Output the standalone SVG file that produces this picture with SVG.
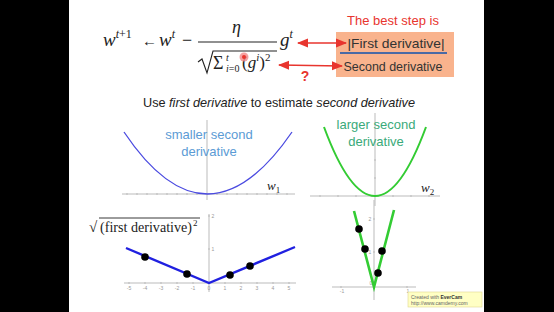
<svg xmlns="http://www.w3.org/2000/svg" width="554" height="312" viewBox="0 0 554 312">
<defs>
<style>
.math{font-family:"Liberation Serif","DejaVu Serif",serif;font-style:italic;fill:#222}
.rm{font-family:"Liberation Serif","DejaVu Serif",serif;fill:#222}
.sans{font-family:"Liberation Sans","Noto Sans",sans-serif}
.axis{stroke:#bbb;stroke-width:1;fill:none}
.tick{stroke:#bbb;stroke-width:1}
.tl{font-family:"Liberation Sans",sans-serif;font-size:5px;fill:#999}
.red{stroke:#e8352e;stroke-width:1.6;fill:none}
.dot{fill:#000}
</style>
<marker id="ah" viewBox="0 0 10 10" refX="9" refY="5" markerWidth="7" markerHeight="7" orient="auto-start-reverse">
<path d="M0,1 L10,5 L0,9 z" fill="#e8352e"/>
</marker>
</defs>
<rect x="0" y="0" width="554" height="312" fill="#000"/>
<rect x="69" y="0" width="415" height="312" fill="#fff"/>

<g id="formula">
<text class="math" x="103" y="46" font-size="19">w<tspan font-size="12" dy="-8">t</tspan><tspan font-size="12" font-style="normal">+1</tspan></text>
<text class="rm" x="142" y="46" font-size="15">←</text>
<text class="math" x="159" y="46" font-size="19">w<tspan font-size="12" dy="-8">t</tspan></text>
<text class="rm" x="182" y="46" font-size="18">−</text>
<text class="math" x="232" y="33" font-size="18">η</text>
<line x1="198" y1="42" x2="277" y2="42" stroke="#222" stroke-width="1.2"/>
<path d="M198,62 L202,59 L207,73 L213,51 L277,51" fill="none" stroke="#222" stroke-width="1.1"/>
<text class="rm" x="213" y="69" font-size="18">Σ</text>
<text class="math" x="226" y="61" font-size="10">t</text>
<text class="math" x="226" y="72" font-size="10">i<tspan font-style="normal">=0</tspan></text>
<text class="math" x="242" y="68" font-size="17"><tspan font-style="normal">(</tspan>g<tspan font-size="11" dy="-7">i</tspan><tspan font-style="normal" dy="7">)</tspan><tspan font-style="normal" font-size="11" dy="-7">2</tspan></text>
<text class="math" x="280" y="46" font-size="19">g<tspan font-size="12" dy="-8">t</tspan></text>
<circle cx="244" cy="57" r="4.5" fill="#f28a8a" opacity="0.8"/>
<circle cx="244" cy="57" r="2" fill="#e8352e"/>
</g>

<g id="best-step">
<text class="sans" x="393" y="25" font-size="13" fill="#e8352e" text-anchor="middle">The best step is</text>
<rect x="336" y="32" width="118" height="45" fill="#f9b38d"/>
<text class="sans" x="396" y="48" font-size="13" fill="#333" text-anchor="middle" textLength="97" lengthAdjust="spacingAndGlyphs">|First derivative|</text>
<line x1="340" y1="53" x2="447" y2="53" stroke="#4a6aa5" stroke-width="2"/>
<text class="sans" x="393" y="71" font-size="13" fill="#333" text-anchor="middle" textLength="99" lengthAdjust="spacingAndGlyphs">Second derivative</text>
</g>

<g id="connectors">
<line class="red" x1="298" y1="43" x2="346" y2="43" marker-start="url(#ah)" marker-end="url(#ah)"/>
<line class="red" x1="279" y1="65" x2="342" y2="66" marker-start="url(#ah)" marker-end="url(#ah)"/>
</g>
<text class="sans" x="305" y="81" font-size="14" font-weight="bold" fill="#e8352e" text-anchor="middle">?</text>

<text class="sans" x="279" y="107" font-size="13" fill="#222" text-anchor="middle" textLength="272" lengthAdjust="spacingAndGlyphs">Use <tspan font-style="italic">first derivative</tspan> to estimate <tspan font-style="italic">second derivative</tspan></text>

<g id="plot-w1">
<line class="axis" x1="122" y1="194" x2="295" y2="194"/>
<line class="axis" x1="207" y1="120" x2="207" y2="200"/>
<path class="tick" d="M127,193v2M137,193v2M147,193v2M157,193v2M167,193v2M177,193v2M187,193v2M197,193v2M217,193v2M227,193v2M237,193v2M247,193v2M257,193v2M267,193v2M277,193v2M287,193v2"/>
<path d="M124,132 Q207,256 292,132" fill="none" stroke="#4a4ae0" stroke-width="1.3"/>
<text class="sans" x="209" y="139" font-size="13" fill="#5b9bd5" text-anchor="middle">smaller second</text>
<text class="sans" x="209" y="156" font-size="13" fill="#5b9bd5" text-anchor="middle">derivative</text>
<text class="math" x="267" y="190" font-size="13">w<tspan font-size="9" dy="3" font-style="normal">1</tspan></text>
</g>

<g id="plot-w2">
<line class="axis" x1="310" y1="196" x2="440" y2="196"/>
<line class="axis" x1="375" y1="113" x2="375" y2="206"/>
<path class="tick" d="M320,195v2M338,195v2M356,195v2M393,195v2M411,195v2M429,195v2M374,178h2M374,160h2M374,142h2"/>
<path d="M324,127 Q375,265 426,127" fill="none" stroke="#33cc33" stroke-width="2"/>
<text class="sans" x="376" y="129" font-size="13" fill="#3aaa7a" text-anchor="middle">larger second</text>
<text class="sans" x="376" y="146" font-size="13" fill="#3aaa7a" text-anchor="middle">derivative</text>
<text class="math" x="421" y="192" font-size="13">w<tspan font-size="9" dy="3" font-style="normal">2</tspan></text>
</g>

<g id="plot-abs">
<text class="rm" x="89" y="232" font-size="15">√</text>
<line x1="99" y1="218" x2="200" y2="218" stroke="#222" stroke-width="0.9"/>
<text class="rm" x="100" y="232" font-size="14" textLength="92" lengthAdjust="spacingAndGlyphs">(first derivative)</text>
<text class="rm" x="193" y="226" font-size="9">2</text>
<line class="axis" x1="124" y1="283" x2="296" y2="283"/>
<line class="axis" x1="209" y1="214" x2="209" y2="292"/>
<path class="tick" d="M129,282v2M145,282v2M161,282v2M177,282v2M193,282v2M225,282v2M241,282v2M257,282v2M273,282v2M289,282v2M208,249h2M208,216h2"/>
<g class="tl" text-anchor="middle">
<text x="129" y="290">-5</text><text x="145" y="290">-4</text><text x="161" y="290">-3</text><text x="177" y="290">-2</text><text x="193" y="290">-1</text><text x="209" y="290">0</text><text x="225" y="290">1</text><text x="241" y="290">2</text><text x="257" y="290">3</text><text x="273" y="290">4</text><text x="289" y="290">5</text>
<text x="213" y="251">1</text><text x="213" y="218">2</text>
</g>
<path d="M126,248 L209,283 L295,247" fill="none" stroke="#2020e0" stroke-width="2.4"/>
<circle class="dot" cx="145" cy="257" r="3.8"/>
<circle class="dot" cx="187" cy="274" r="3.8"/>
<circle class="dot" cx="230" cy="275" r="3.8"/>
<circle class="dot" cx="250" cy="266" r="3.8"/>
</g>

<g id="plot-abs2">
<line class="axis" x1="332" y1="287" x2="416" y2="287"/>
<line class="axis" x1="374" y1="200" x2="374" y2="300"/>
<path class="tick" d="M341,286v2M407,286v2M373,252h2M373,219h2"/>
<g class="tl" text-anchor="middle">
<text x="342" y="293">-1</text><text x="408" y="293">1</text><text x="371" y="285">0</text><text x="370" y="254">1</text><text x="370" y="221">2</text>
</g>
<path d="M354,211 L374,287 L394,210" fill="none" stroke="#33cc33" stroke-width="2.6"/>
<circle class="dot" cx="359" cy="229" r="3.8"/>
<circle class="dot" cx="365" cy="249" r="3.8"/>
<circle class="dot" cx="382" cy="251" r="3.8"/>
<circle class="dot" cx="378" cy="273" r="3.8"/>
</g>

<g id="evercam">
<rect x="408" y="292" width="74" height="15" fill="#ffffc4" stroke="#e0d890" stroke-width="0.6"/>
<text class="sans" x="411" y="298.5" font-size="5" fill="#666">Created with <tspan font-weight="bold" fill="#333">EverCam</tspan></text>
<text class="sans" x="411" y="305" font-size="5" fill="#666">http://www.camdemy.com</text>
</g>
</svg>
